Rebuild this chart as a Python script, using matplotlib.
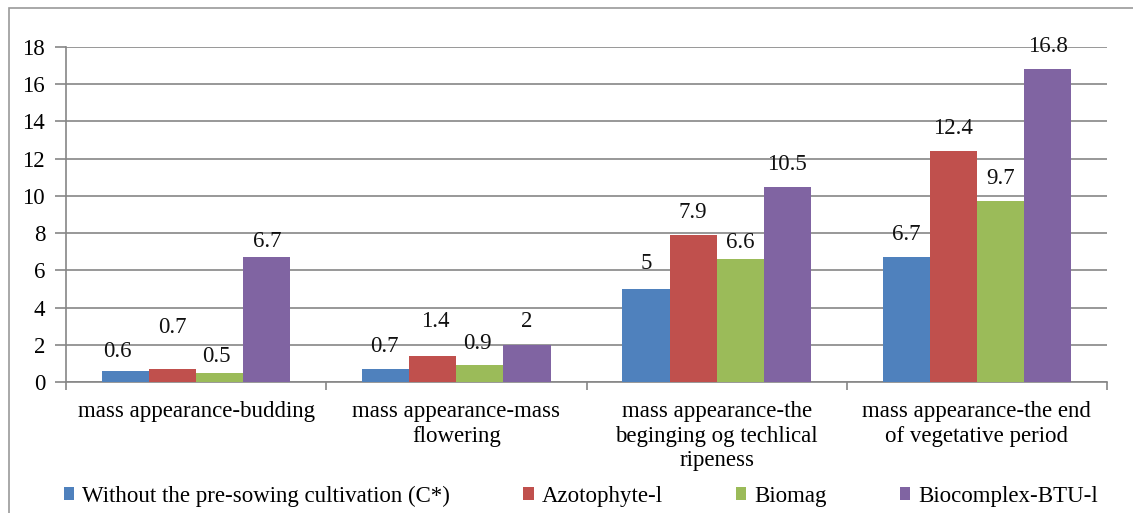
import numpy as np
import matplotlib
matplotlib.use("Agg")
import matplotlib.pyplot as plt
from matplotlib.patches import Rectangle

categories = [
    "mass appearance-budding",
    "mass appearance-mass\nflowering",
    "mass appearance-the\nbeginging og techlical\nripeness",
    "mass appearance-the end\nof vegetative period",
]
series_names = [
    "Without the pre-sowing cultivation (C*)",
    "Azotophyte-l",
    "Biomag",
    "Biocomplex-BTU-l",
]
without_c = [0.6, 0.7, 5, 6.7]
azotophyte = [0.7, 1.4, 7.9, 12.4]
biomag = [0.5, 0.9, 6.6, 9.7]
biocomplex = [6.7, 2, 10.5, 16.8]
series_values = [without_c, azotophyte, biomag, biocomplex]
value_labels = [
    ["0.6", "0.7", "5", "6.7"],
    ["0.7", "1.4", "7.9", "12.4"],
    ["0.5", "0.9", "6.6", "9.7"],
    ["6.7", "2", "10.5", "16.8"],
]

colors = ["#4F81BD", "#C0504D", "#9BBB59", "#8064A2"]
# label offsets above bar top in pixels [series][group] (Excel nudged some)
label_dy = [
    [19, 22, 25, 23],
    [41, 34, 22, 23],
    [16, 22, 17, 23],
    [16, 23, 22, 23],
]
label_dx = [
    [-8, -1, 0, 0],
    [0, 2, 0, 0],
    [-3, -2, 0, 0],
    [0, 0, 0, 0],
]

plt.rcParams['font.family'] = 'Liberation Serif'
plt.rcParams['font.size'] = 16.5

dpi = 100
fig = plt.figure(figsize=(1133 / dpi, 513 / dpi), dpi=dpi)
ax = fig.add_axes([66 / 1133, 1 - 382 / 513, (1107 - 66) / 1133, (382 - 47) / 513])

grid_c = "#868686"
x = np.arange(len(categories))
width = 0.181
for i, (name, vals) in enumerate(zip(series_names, series_values)):
    pos = x + (i - 1.5) * width
    ax.bar(pos, vals, width, color=colors[i], label=name, zorder=3)
    for j, v in enumerate(vals):
        ax.annotate(value_labels[i][j], (pos[j], v),
                    xytext=(label_dx[i][j] * 0.72, label_dy[i][j] * 0.72),
                    textcoords="offset points", ha="center", va="center",
                    color="#111111", zorder=4)

ax.set_xlim(-0.5, 3.5)
ax.set_ylim(0, 18)
ax.set_yticks(np.arange(0, 19, 2))
ax.yaxis.grid(True, color=grid_c, linewidth=1.2, zorder=0)
ax.set_axisbelow(True)

ax.set_xticks(np.arange(-0.5, 4, 1))
ax.set_xticklabels([])
ax.set_xticks(x, minor=True)
ax.set_xticklabels(categories, minor=True, linespacing=1.2)
ax.tick_params(axis="x", which="minor", length=0, pad=14)
ax.tick_params(axis="x", which="major", length=6, width=1.2, color=grid_c, direction="out")
ax.tick_params(axis="y", length=8, width=1.2, color=grid_c, direction="out", pad=7)

for s in ["top", "right"]:
    ax.spines[s].set_visible(False)
for s in ["left", "bottom"]:
    ax.spines[s].set_color(grid_c)
    ax.spines[s].set_linewidth(1.2)

leg = fig.legend(loc="center", bbox_to_anchor=(581 / 1133, 1 - 496 / 513), ncol=4,
                 frameon=False, handlelength=0.45, handleheight=0.45,
                 handletextpad=0.35, columnspacing=3.2, borderaxespad=0)

fig.add_artist(Rectangle((9 / 1133, -0.2), 1.2, 1.2 - 8 / 513 + 0.0,
                         transform=fig.transFigure, fill=False,
                         edgecolor="#9a9a9a", linewidth=1.2))

fig.savefig("out.png", dpi=dpi)
